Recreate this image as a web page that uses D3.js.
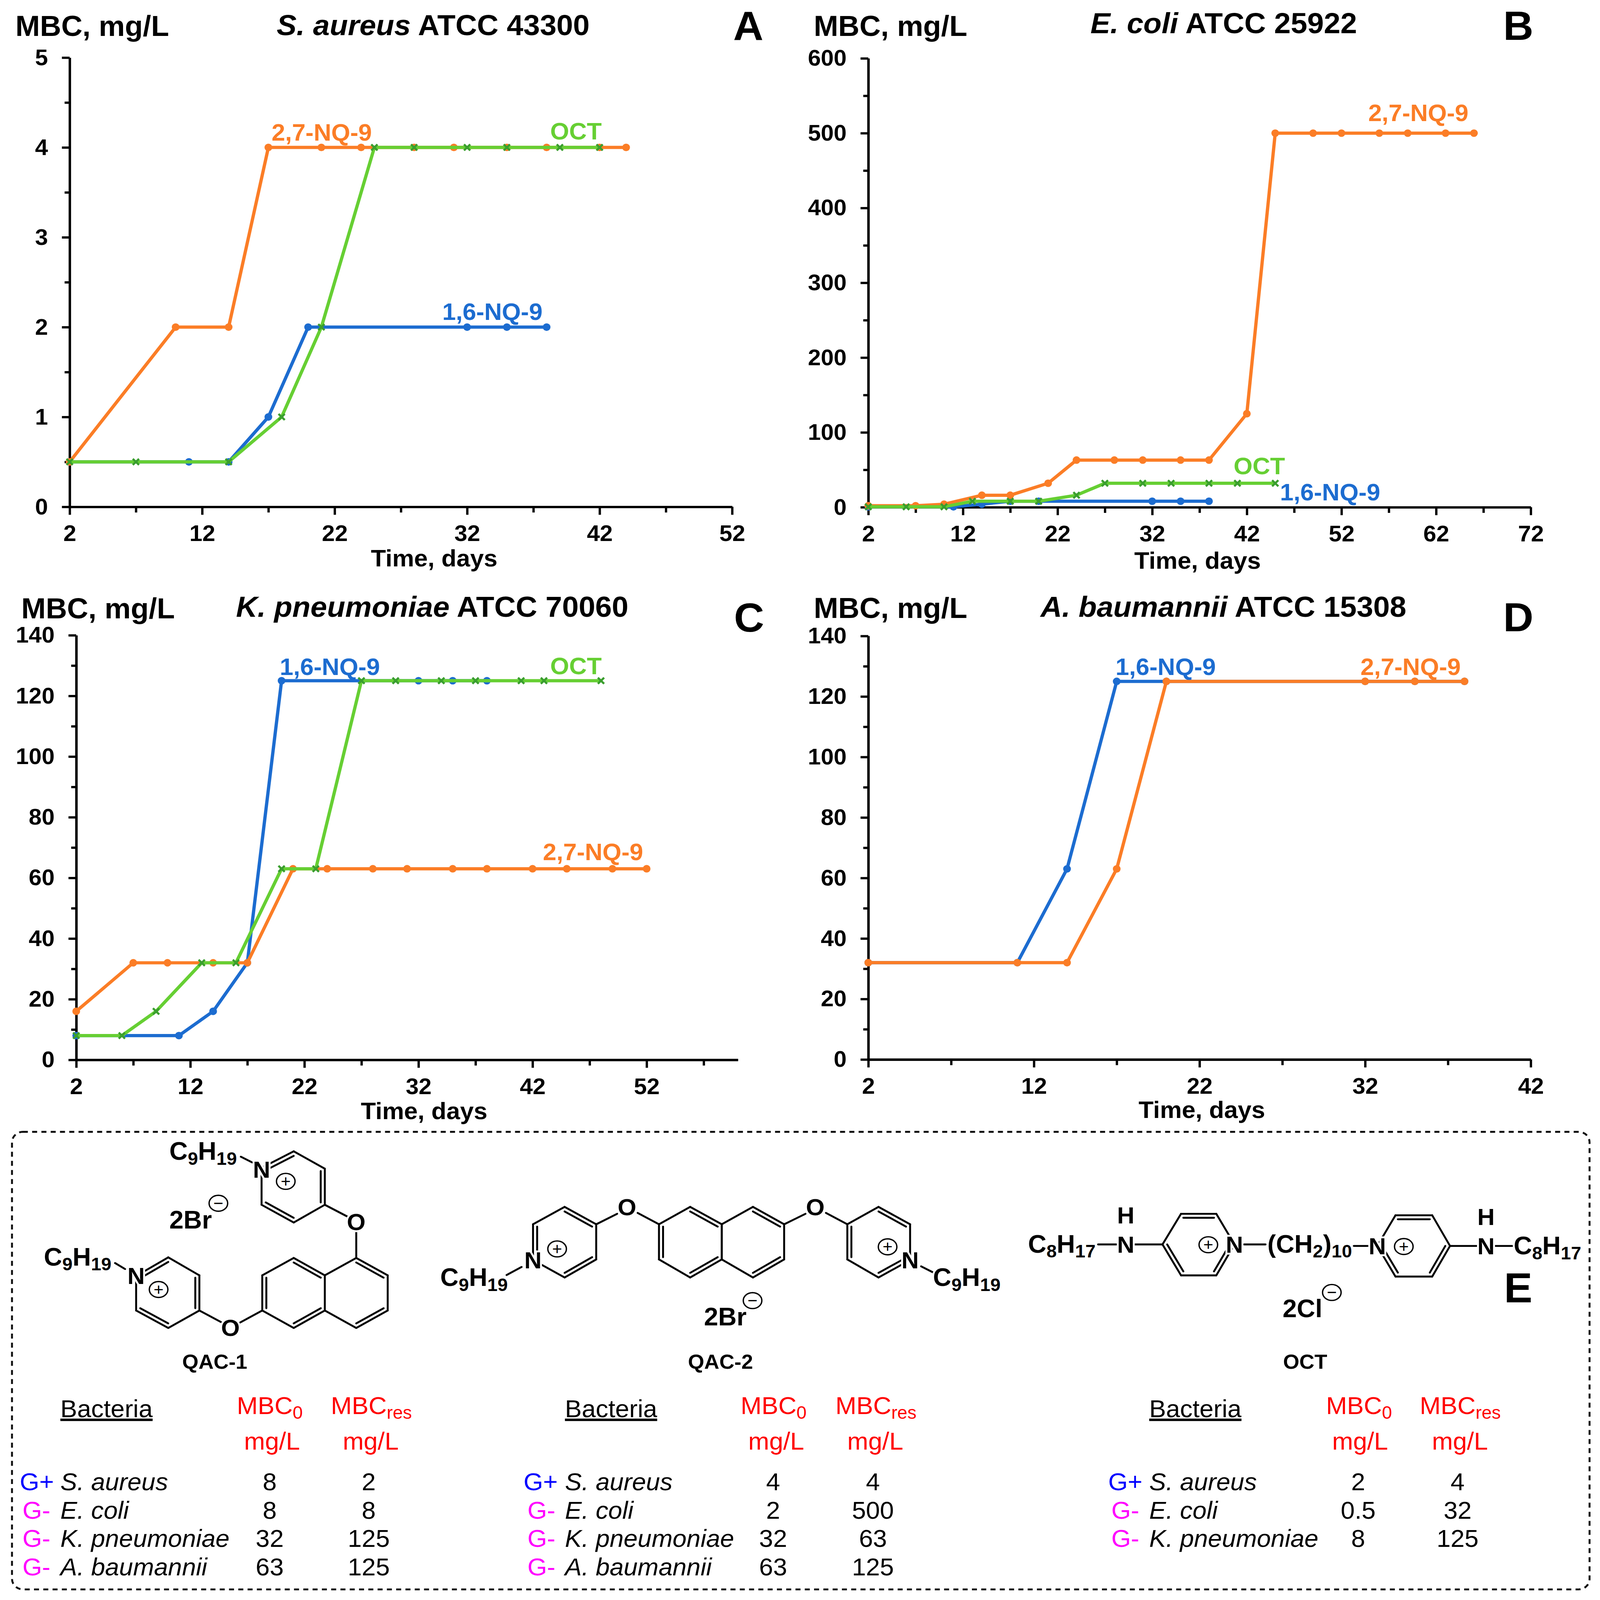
<!DOCTYPE html>
<html lang="en">
<head>
<meta charset="UTF-8">
<title>MBC resistance development</title>
<script src="https://d3js.org/d3.v7.min.js"></script>
<style>
  html, body { margin: 0; padding: 0; background: #fff; overflow: hidden; width: 100%; height: 100%; }
  svg { display: block; width: 100vw; height: 100vh; }
  text { font-family: "Liberation Sans", Arial, sans-serif; fill: #000; }
</style>
</head>
<body>
<svg id="fig" viewBox="0 0 4135 4224" preserveAspectRatio="none"></svg>
<script>
// panel A - S. aureus
const aOrangeDays = [2, 10, 14, 17, 21, 24, 28, 31, 35, 38, 42, 44];
const aOrangeMbc = [0.5, 2, 2, 4, 4, 4, 4, 4, 4, 4, 4, 4];
const aBlueDays = [2, 11, 14, 17, 20, 32, 35, 38];
const aBlueMbc = [0.5, 0.5, 0.5, 1, 2, 2, 2, 2];
const aGreenDays = [2, 7, 14, 18, 21, 25, 28, 32, 35, 39, 42];
const aGreenMbc = [0.5, 0.5, 0.5, 1, 2, 4, 4, 4, 4, 4, 4];
// panel B - E. coli
const bOrangeDays = [2, 7, 10, 14, 17, 21, 24, 28, 31, 35, 38, 42, 45, 49, 52, 56, 59, 63, 66];
const bOrangeMbc = [2, 2, 4, 16, 16, 32, 63, 63, 63, 63, 63, 125, 500, 500, 500, 500, 500, 500, 500];
const bBlueDays = [2, 11, 14, 17, 20, 32, 35, 38];
const bBlueMbc = [0.5, 0.5, 4, 8, 8, 8, 8, 8];
const bGreenDays = [2, 6, 10, 13, 17, 20, 24, 27, 31, 34, 38, 41, 45];
const bGreenMbc = [0.5, 0.5, 0.5, 8, 8, 8, 16, 32, 32, 32, 32, 32, 32];
// panel C - K. pneumoniae
const cOrangeDays = [2, 7, 10, 14, 17, 21, 24, 28, 31, 35, 38, 42, 45, 49, 52];
const cOrangeMbc = [16, 32, 32, 32, 32, 63, 63, 63, 63, 63, 63, 63, 63, 63, 63];
const cBlueDays = [2, 11, 14, 17, 20, 32, 35, 38];
const cBlueMbc = [8, 8, 16, 32, 125, 125, 125, 125];
const cGreenDays = [2, 6, 9, 13, 16, 20, 23, 27, 30, 34, 37, 41, 43, 48];
const cGreenMbc = [8, 8, 16, 32, 32, 63, 63, 125, 125, 125, 125, 125, 125, 125];
// panel D - A. baumannii
const dOrangeDays = [2, 11, 14, 17, 20, 32, 35, 38];
const dOrangeMbc = [32, 32, 32, 63, 125, 125, 125, 125];
const dBlueDays = [2, 11, 14, 17, 20, 32, 35, 38];
const dBlueMbc = [32, 32, 63, 125, 125, 125, 125, 125];

// tick labels
const aXMajor = [2, 12, 22, 32, 42, 52], aXMinor = [7, 17, 27, 37, 47];
const aYMajor = [0, 1, 2, 3, 4, 5], aYMinor = [0.5, 1.5, 2.5, 3.5, 4.5];
const bXMajor = [2, 12, 22, 32, 42, 52, 62, 72], bXMinor = [7, 17, 27, 37, 47, 57, 67];
const bYMajor = [0, 100, 200, 300, 400, 500, 600], bYMinor = [50, 150, 250, 350, 450, 550];
const cXMajor = [2, 12, 22, 32, 42, 52], cXMinor = [7, 17, 27, 37, 47, 57];
const cdYMajor = [0, 20, 40, 60, 80, 100, 120, 140], cdYMinor = [10, 30, 50, 70, 90, 110, 130];
const dXMajor = [2, 12, 22, 32, 42], dXMinor = [7, 17, 27, 37];

// tables
const bacteria = ["S. aureus", "E. coli", "K. pneumoniae", "A. baumannii"];
const gram = ["G+", "G-", "G-", "G-"];
const qac1Mbc0 = ["8", "8", "32", "63"], qac1MbcRes = ["2", "8", "125", "125"];
const qac2Mbc0 = ["4", "2", "32", "63"], qac2MbcRes = ["4", "500", "63", "125"];
const octMbc0 = ["2", "0.5", "8"], octMbcRes = ["4", "32", "125"];

const ORANGE = "#fb7d26", BLUE = "#1c6cd0", GREEN = "#66cf33", XMARK = "#3a9e2e";

const svg = d3.select("#fig");
svg.append("rect").attr("width", 4135).attr("height", 4224).attr("fill", "#fff");

// text with _sub parts, e.g. C_9H_19
function rich(x, y, str, size, opts) {
  opts = opts || {};
  const t = svg.append("text").attr("x", x).attr("y", y)
    .attr("font-size", size)
    .attr("font-weight", opts.weight || "normal")
    .attr("text-anchor", opts.anchor || "start")
    .style("fill", opts.fill || "#000");
  if (opts.halo) {
    t.attr("stroke", "#fff").attr("stroke-width", 10).attr("paint-order", "stroke");
  }
  const parts = str.split(/_(\d+|[a-z]+)/);
  let wasSub = false;
  parts.forEach((p, i) => {
    if (p === "") return;
    const sub = i % 2 === 1;
    const ts = t.append("tspan").text(p).attr("font-size", sub ? size * 0.72 : size);
    if (sub) ts.attr("dy", size * 0.2);
    else if (wasSub) ts.attr("dy", -size * 0.2);
    wasSub = sub;
  });
  return t;
}

function panel(cfg) {
  const x = d3.scaleLinear().domain(cfg.xDomain).range([cfg.left, cfg.right]);
  const y = d3.scaleLinear().domain(cfg.yDomain).range([cfg.bottom, cfg.top]);
  const g = svg.append("g");

  const styleAxis = sel => {
    sel.selectAll("path,line").attr("stroke", "#000").attr("stroke-width", 6);
    sel.selectAll("text").attr("font-size", 60).attr("font-weight", "bold")
      .style("fill", "#000");
  };
  g.append("g").attr("transform", `translate(0,${cfg.bottom})`)
    .call(d3.axisBottom(x).tickValues(cfg.xMinor).tickSize(15).tickSizeOuter(0).tickFormat(""))
    .call(styleAxis);
  g.append("g").attr("transform", `translate(${cfg.left},0)`)
    .call(d3.axisLeft(y).tickValues(cfg.yMinor).tickSize(13).tickSizeOuter(0).tickFormat(""))
    .call(styleAxis);
  g.append("g").attr("transform", `translate(0,${cfg.bottom})`)
    .call(d3.axisBottom(x).tickValues(cfg.xMajor).tickSize(21).tickSizeOuter(0).tickPadding(27).tickFormat(d3.format("d")))
    .call(styleAxis);
  g.append("g").attr("transform", `translate(${cfg.left},0)`)
    .call(d3.axisLeft(y).tickValues(cfg.yMajor).tickSize(20).tickSizeOuter(0).tickPadding(36).tickFormat(d3.format("d")))
    .call(styleAxis);

  const line = d3.line().x(d => x(d[0])).y(d => y(d[1]));
  cfg.series.forEach(s => {
    const pts = d3.zip(s.days, s.mbc);
    g.append("path").attr("d", line(pts)).attr("fill", "none")
      .attr("stroke", s.color).attr("stroke-width", 8.5).attr("stroke-linejoin", "round");
    if (s.cross) {
      g.selectAll(null).data(pts).join("path")
        .attr("d", d3.symbol().type(d3.symbolTimes).size(170))
        .attr("transform", d => `translate(${x(d[0])},${y(d[1])})`)
        .attr("fill", "none").attr("stroke", XMARK).attr("stroke-width", 5.5);
    } else {
      g.selectAll(null).data(pts).join("circle")
        .attr("cx", d => x(d[0])).attr("cy", d => y(d[1])).attr("r", 10)
        .attr("fill", s.color);
    }
  });

  cfg.tags.forEach(t => rich(t[1], t[2], t[0], 63, { weight: "bold", fill: t[3] }));
  rich(cfg.mbc[0], cfg.mbc[1], "MBC, mg/L", 76, { weight: "bold" });
  const title = svg.append("text").attr("x", cfg.title[0]).attr("y", cfg.title[1])
    .attr("font-size", 77).attr("font-weight", "bold");
  title.append("tspan").attr("font-style", "italic").text(cfg.species);
  title.append("tspan").text(" " + cfg.strain);
  rich(cfg.letter[1], cfg.letter[2], cfg.letter[0], 108, { weight: "bold" });
  rich(cfg.time[0], cfg.time[1], "Time, days", 63.5, { weight: "bold", anchor: "middle" });
}

panel({
  left: 180, right: 1892, top: 152, bottom: 1338, xDomain: [2, 52], yDomain: [0, 5],
  xMajor: aXMajor, xMinor: aXMinor, yMajor: aYMajor, yMinor: aYMinor,
  series: [
    { days: aBlueDays, mbc: aBlueMbc, color: BLUE },
    { days: aOrangeDays, mbc: aOrangeMbc, color: ORANGE },
    { days: aGreenDays, mbc: aGreenMbc, color: GREEN, cross: true }
  ],
  tags: [["2,7-NQ-9", 702, 371, ORANGE], ["OCT", 1422, 368, GREEN], ["1,6-NQ-9", 1143, 845, BLUE]],
  mbc: [40, 95], title: [715, 93], species: "S. aureus", strain: "ATCC 43300",
  letter: ["A", 1895, 105], time: [1122, 1495]
});
panel({
  left: 2244, right: 3956, top: 154, bottom: 1339, xDomain: [2, 72], yDomain: [0, 600],
  xMajor: bXMajor, xMinor: bXMinor, yMajor: bYMajor, yMinor: bYMinor,
  series: [
    { days: bBlueDays, mbc: bBlueMbc, color: BLUE },
    { days: bOrangeDays, mbc: bOrangeMbc, color: ORANGE },
    { days: bGreenDays, mbc: bGreenMbc, color: GREEN, cross: true }
  ],
  tags: [["2,7-NQ-9", 3536, 320, ORANGE], ["OCT", 3188, 1252, GREEN], ["1,6-NQ-9", 3308, 1321, BLUE]],
  mbc: [2103, 95], title: [2818, 88], species: "E. coli", strain: "ATCC 25922",
  letter: ["B", 3885, 105], time: [3095, 1502]
});
panel({
  left: 197, right: 1907, top: 1677, bottom: 2798, xDomain: [2, 60], yDomain: [0, 140],
  xMajor: cXMajor, xMinor: cXMinor, yMajor: cdYMajor, yMinor: cdYMinor,
  series: [
    { days: cBlueDays, mbc: cBlueMbc, color: BLUE },
    { days: cOrangeDays, mbc: cOrangeMbc, color: ORANGE },
    { days: cGreenDays, mbc: cGreenMbc, color: GREEN, cross: true }
  ],
  tags: [["1,6-NQ-9", 723, 1782, BLUE], ["OCT", 1422, 1780, GREEN], ["2,7-NQ-9", 1403, 2271, ORANGE]],
  mbc: [55, 1632], title: [610, 1628], species: "K. pneumoniae", strain: "ATCC 70060",
  letter: ["C", 1897, 1668], time: [1096, 2955]
});
panel({
  left: 2244, right: 3956, top: 1679, bottom: 2797, xDomain: [2, 42], yDomain: [0, 140],
  xMajor: dXMajor, xMinor: dXMinor, yMajor: cdYMajor, yMinor: cdYMinor,
  series: [
    { days: dBlueDays, mbc: dBlueMbc, color: BLUE },
    { days: dOrangeDays, mbc: dOrangeMbc, color: ORANGE }
  ],
  tags: [["1,6-NQ-9", 2883, 1782, BLUE], ["2,7-NQ-9", 3516, 1782, ORANGE]],
  mbc: [2103, 1631], title: [2689, 1628], species: "A. baumannii", strain: "ATCC 15308",
  letter: ["D", 3885, 1667], time: [3106, 2951]
});

// dashed box round panel E
svg.append("rect").attr("x", 31).attr("y", 2988).attr("width", 4077).attr("height", 1208)
  .attr("rx", 28).attr("fill", "none").attr("stroke", "#111").attr("stroke-width", 5)
  .attr("stroke-dasharray", "13 11");

// molecule drawing, coordinates read in crop space and mapped with ox/sx
function molecule(m) {
  const X = v => m.ox + v * m.sx, Y = v => 2980 + v * 0.793;
  const bond = (a, b) => svg.append("line")
    .attr("x1", a[0]).attr("y1", a[1]).attr("x2", b[0]).attr("y2", b[1])
    .attr("stroke", "#000").attr("stroke-width", 5).attr("stroke-linecap", "round");
  m.rings.forEach(r => {
    const pts = r.pts.map(p => [X(p[0]), Y(p[1])]);
    const cx = d3.mean(pts, p => p[0]), cy = d3.mean(pts, p => p[1]);
    pts.forEach((p, i) => {
      const q = pts[(i + 1) % pts.length];
      bond(p, q);
      if (r.dbl.includes(i)) {
        // inner line of a double bond, pulled toward the ring centre
        const f = 0.13;
        const a = [p[0] + (cx - p[0]) * f, p[1] + (cy - p[1]) * f];
        const b = [q[0] + (cx - q[0]) * f, q[1] + (cy - q[1]) * f];
        bond(a, b);
      }
    });
  });
  m.bonds.forEach(b => bond([X(b[0]), Y(b[1])], [X(b[2]), Y(b[3])]));
  m.atoms.forEach(a => rich(X(a[1]), Y(a[2]), a[0], 62, { weight: "bold", anchor: "middle", halo: true }));
  m.groups.forEach(a => rich(X(a[1]), Y(a[2]), a[0], 66, { weight: "bold", halo: true }));
  m.charges.forEach(c => {
    svg.append("ellipse").attr("cx", X(c[1])).attr("cy", Y(c[2])).attr("rx", 24).attr("ry", 21)
      .attr("fill", "#fff").attr("stroke", "#000").attr("stroke-width", 3.5);
    rich(X(c[1]), Y(c[2]) + 15, c[0], 44, { anchor: "middle" });
  });
  rich(m.name[1], 3613, m.name[0], 54, { weight: "bold", anchor: "middle" });
}

molecule({
  ox: 0, sx: 0.893, name: ["QAC-1", 555],
  rings: [
    { pts: [[757,130],[850,75],[940,133],[940,253],[850,312],[757,253]], dbl: [0,2,4] },
    { pts: [[394,490],[487,428],[577,488],[577,605],[487,663],[394,605]], dbl: [0,2,4] },
    { pts: [[1031,430],[1122,488],[1122,605],[1031,663],[940,605],[940,488]], dbl: [0,2] },
    { pts: [[850,430],[940,488],[940,605],[850,663],[759,605],[759,488]], dbl: [0,2,4] }
  ],
  bonds: [[940,253,1005,292],[1031,340,1031,430],[577,605,642,645],[695,645,759,605],[697,93,730,112],[333,447,362,467]],
  atoms: [["N",757,163],["N",394,517],["O",1031,337],["O",667,690]],
  groups: [["C_9H_19",490,103],["C_9H_19",127,455],["2Br",490,332]],
  charges: [["+",827,175],["+",459,535],["−",632,248]]
});
molecule({
  ox: 1100, sx: 1.0204, name: ["QAC-2", 1862],
  rings: [
    { pts: [[272,437],[272,318],[352,260],[432,318],[432,435],[352,495]], dbl: [0,2,4] },
    { pts: [[591,318],[670,260],[750,318],[750,435],[670,495],[591,435]], dbl: [1,3,5] },
    { pts: [[829,260],[908,318],[908,435],[829,495],[750,435],[750,318]], dbl: [0,2] },
    { pts: [[1068,318],[1147,260],[1227,318],[1227,437],[1147,495],[1068,435]], dbl: [1,3,5] }
  ],
  bonds: [[432,318,485,283],[537,280,591,318],[908,318,962,283],[1014,280,1068,318],[205,487,243,460],[1255,458,1285,478]],
  atoms: [["O",510,288],["O",987,288],["N",272,465],["N",1227,465]],
  groups: [["C_9H_19",37,523],["C_9H_19",1285,523],["2Br",705,655]],
  charges: [["+",333,400],["+",1170,393],["−",828,572]]
});
molecule({
  ox: 2600, sx: 0.979, name: ["OCT", 3373],
  rings: [
    { pts: [[413,385],[462,283],[555,283],[603,385],[555,488],[462,488]], dbl: [1,3,5] },
    { pts: [[980,390],[1028,288],[1125,288],[1172,390],[1125,492],[1028,492]], dbl: [1,3,5] }
  ],
  bonds: [[243,385,293,385],[340,385,413,385],[628,385,685,385],[918,390,958,390],[1172,390,1243,390],[1290,390,1338,390]],
  atoms: [["N",316,412],["H",316,315],["N",603,412],["N",980,418],["N",1267,418],["H",1267,320]],
  groups: [["C_8H_17",58,412],["(CH_2)_10",690,412],["C_8H_17",1340,418],["2Cl",730,627]],
  charges: [["+",534,386],["+",1050,392],["−",860,545]]
});
rich(3887, 3438, "E", 110, { weight: "bold" });

function table(t) {
  const RED = "#ff0000";
  rich(t.name, 3741, "Bacteria", 65).style("text-decoration", "underline");
  rich(t.mbc0, 3733, "MBC_0", 65, { fill: RED });
  rich(t.mbcRes, 3733, "MBC_res", 65, { fill: RED });
  rich(t.unit0, 3827, "mg/L", 65, { fill: RED, anchor: "middle" });
  rich(t.unitRes, 3827, "mg/L", 65, { fill: RED, anchor: "middle" });
  const rowY = d3.scaleLinear().domain([0, 3]).range([3934, 4159]);
  t.v0.forEach((v, i) => {
    const plus = gram[i] === "G+";
    rich(plus ? t.gPlus : t.gMinus, rowY(i), gram[i], 65, { fill: plus ? "#0000ff" : "#ff00ff" });
    rich(t.name, rowY(i), bacteria[i], 65).attr("font-style", "italic");
    rich(t.col0, rowY(i), v, 65, { anchor: "middle" });
    rich(t.colRes, rowY(i), t.vRes[i], 65, { anchor: "middle" });
  });
}
table({ gPlus: 51, gMinus: 58, name: 156, mbc0: 612, mbcRes: 855, unit0: 703, unitRes: 958, col0: 697, colRes: 953, v0: qac1Mbc0, vRes: qac1MbcRes });
table({ gPlus: 1353, gMinus: 1363, name: 1460, mbc0: 1914, mbcRes: 2159, unit0: 2006, unitRes: 2262, col0: 1998, colRes: 2256, v0: qac2Mbc0, vRes: qac2MbcRes });
table({ gPlus: 2864, gMinus: 2872, name: 2970, mbc0: 3427, mbcRes: 3669, unit0: 3515, unitRes: 3773, col0: 3510, colRes: 3767, v0: octMbc0, vRes: octMbcRes });
</script>
</body>
</html>
